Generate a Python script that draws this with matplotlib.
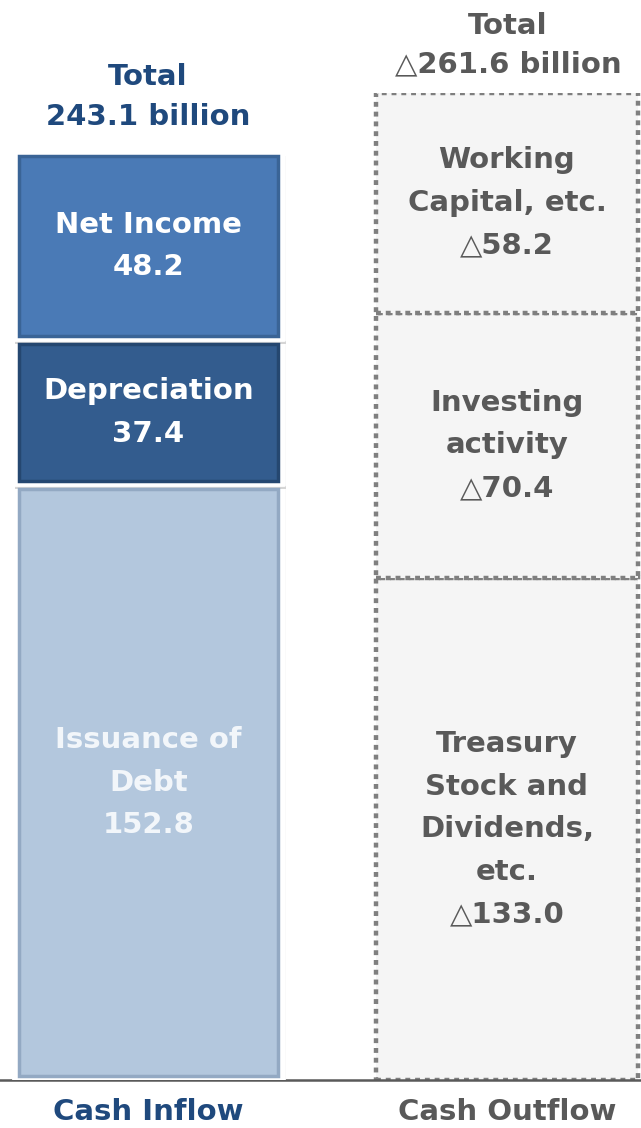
import matplotlib
matplotlib.use("Agg")
import matplotlib.pyplot as plt
import matplotlib.patheffects as pe

plt.rcParams['font.family'] = ['DejaVu Sans']

# data
inflow_labels = ["Net Income", "Depreciation", "Issuance of\nDebt"]
inflow_values = [48.2, 37.4, 152.8]
inflow_total = 243.1
outflow_labels = ["Working\nCapital, etc.", "Investing\nactivity", "Treasury\nStock and\nDividends,\netc."]
outflow_values = [58.2, 70.4, 133.0]
outflow_total = 261.6
columns = ["Cash Inflow", "Cash Outflow"]

# styles
navy = "#1F497D"
grey = "#595959"
fill_cols = ["#4A7AB6", "#335C8E", "#B3C7DD"]
edge_cols = ["#3A6496", "#254770", "#93A9C3"]
text_cols = ["white", "white", "#F2F6FA"]
fs = 21
ls = 1.66

fig = plt.figure(figsize=(6.41, 11.28), dpi=100)
ax = fig.add_axes([0, 48 / 1128, 1, 987 / 1128])
ax.set_xlim(-0.4142, 1.3738)
ax.set_ylim(0, outflow_total)

# left column drawn on its own y scale (the slide's bar is not to scale)
axl = ax.twinx()
axl.set_ylim(0, sum(inflow_values) * 987 / 928)
axl.set_axis_off()

xpx = 358.5  # pixels per unit on x
pxl = 928 / sum(inflow_values)

in_order = list(zip(inflow_labels, inflow_values, fill_cols, edge_cols, text_cols))[::-1]
w_out = 271 / xpx
inset_x = 6 / xpx
inset_y = 4 / pxl
bottom = 0
for lab, v, fc, ec, tc in in_order:
    axl.bar(0, v, bottom=bottom, width=w_out, color="white", edgecolor="white",
            linewidth=2, joinstyle="round", zorder=2,
            path_effects=[pe.SimplePatchShadow(offset=(1.5, -3), shadow_rgbFace="#777777", alpha=0.3),
                          pe.Normal()])
    axl.bar(0, v - 2 * inset_y, bottom=bottom + inset_y, width=w_out - 2 * inset_x,
            color=fc, edgecolor=ec, linewidth=2.5, zorder=3)
    axl.text(0, bottom + v / 2, f"{lab}\n{v:.1f}", ha="center", va="center",
             color=tc, fontsize=fs, fontweight="bold", linespacing=ls, zorder=4)
    bottom += v

out_order = list(zip(outflow_labels, outflow_values))[::-1]
bottom = 0
for lab, v in out_order:
    ax.bar(1, v, bottom=bottom, width=262 / xpx, color="#F5F5F5", edgecolor="#7F7F7F",
           linewidth=3.2, linestyle=(0, (1.1, 1.1)), zorder=2)
    ax.text(1, bottom + v / 2, f"{lab}\n\u25b3{v:.1f}", ha="center", va="center",
            color=grey, fontsize=fs, fontweight="bold", linespacing=ls, zorder=4)
    bottom += v

fig.text(148 / 641, 1 - 97 / 1128, f"Total\n{inflow_total:.1f} billion", ha="center", va="center",
         color=navy, fontsize=fs, fontweight="bold", linespacing=1.55)
fig.text(508 / 641, 1 - 45 / 1128, f"Total\n\u25b3{outflow_total:.1f} billion", ha="center", va="center",
         color=grey, fontsize=fs, fontweight="bold", linespacing=1.5)

ax.set_xticks([0, 1])
ax.set_xticklabels(columns, fontsize=fs, fontweight="bold")
for t, c in zip(ax.get_xticklabels(), [navy, grey]):
    t.set_color(c)
ax.tick_params(axis="x", length=0, pad=13)
ax.set_yticks([])
for s in ["top", "left", "right"]:
    ax.spines[s].set_visible(False)
ax.spines["bottom"].set_color(grey)
ax.spines["bottom"].set_linewidth(1.8)
ax.spines["bottom"].set_zorder(5)
ax.patch.set_alpha(0)

fig.savefig("out.png", dpi=100)
